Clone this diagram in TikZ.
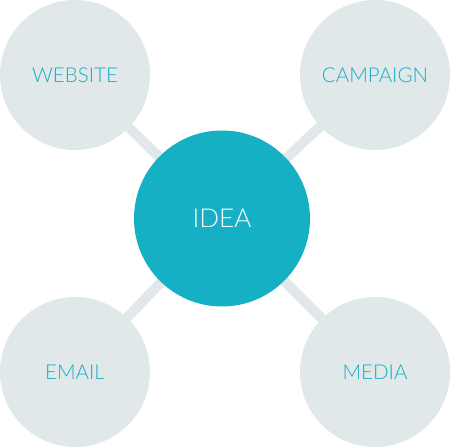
\documentclass[tikz,border=0pt]{standalone}
\usepackage{fontspec}
\setmainfont[UprightFont=* Light]{Lato}
\usepackage{xcolor}
\usetikzlibrary{positioning}
\usetikzlibrary{backgrounds}
\definecolor{leafgray}{HTML}{E1E8EA}
\definecolor{ideateal}{HTML}{16B0C4}

\tikzset{
  hub/.style={circle, fill=ideateal, text=white, minimum size=176bp, inner sep=0pt, font=\fontsize{26bp}{30bp}\selectfont},
  leaf/.style={circle, fill=leafgray, text=ideateal, minimum size=150bp, inner sep=0pt, font=\fontsize{20.5bp}{24bp}\selectfont},
  link/.style={leafgray, line width=10bp}
}

\begin{document}
\begin{tikzpicture}[x=1bp,y=1bp]

\useasboundingbox (0,0) rectangle (450,448);

\node[hub] (idea) at (222,229.5) {IDEA};

\node[leaf] (website) at (75,373) {WEBSITE};
\node[leaf] (campaign) at (375,373) {CAMPAIGN};
\node[leaf] (email) at (75,76) {EMAIL};
\node[leaf] (media) at (375,76) {MEDIA};

\begin{scope}[on background layer]
\draw[link] (idea.center) -- (website.center);
\draw[link] (idea.center) -- (campaign.center);
\draw[link] (idea.center) -- (email.center);
\draw[link] (idea.center) -- (media.center);
\end{scope}

\end{tikzpicture}
\end{document}
